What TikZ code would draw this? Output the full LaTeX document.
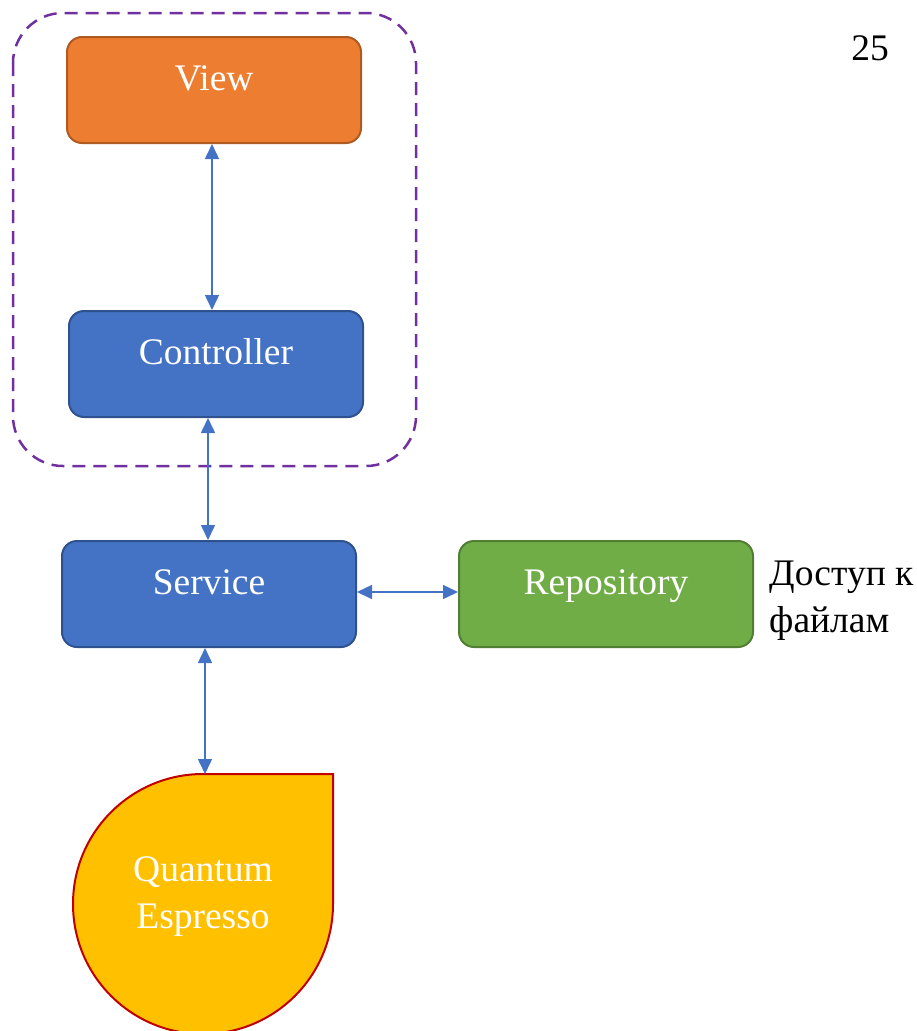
\documentclass[tikz,border=0pt]{standalone}
\usepackage{fontspec}
\setmainfont{Liberation Serif}
\usetikzlibrary{arrows.meta}
\definecolor{cOrange}{HTML}{ED7D31}
\definecolor{cOrangeB}{HTML}{AE5A21}
\definecolor{cBlue}{HTML}{4472C4}
\definecolor{cBlueB}{HTML}{2F528F}
\definecolor{cGreen}{HTML}{70AD47}
\definecolor{cGreenB}{HTML}{507E32}
\definecolor{cYellow}{HTML}{FFC000}
\definecolor{cRed}{HTML}{C00000}
\definecolor{cPurple}{HTML}{7030A0}
\begin{document}
\begin{tikzpicture}[x=1pt,y=-1pt,
  box/.style={draw, line width=2pt, rounded corners=15pt, minimum width=294pt, minimum height=106pt,
    text=white, font=\fontsize{37.5}{47}\selectfont, text height=14pt, text depth=14pt, inner sep=0pt},
  link/.style={cBlue, line width=1.5pt, {Triangle[length=15pt,width=14pt]}-{Triangle[length=15pt,width=14pt]}},
  big/.style={font=\fontsize{37.5}{47}\selectfont}
]
\useasboundingbox (0,0) rectangle (917,1031);
% dashed group
\draw[cPurple, line width=2.5pt, dash pattern=on 13pt off 8pt, rounded corners=50pt] (13,13) rectangle (416,466);
% boxes
\node[box, fill=cOrange, draw=cOrangeB] (view) at (214,90) {View};
\node[box, fill=cBlue, draw=cBlueB] (controller) at (216,364) {Controller};
\node[box, fill=cBlue, draw=cBlueB] (service) at (209,594) {Service};
\node[box, fill=cGreen, draw=cGreenB] (repository) at (606,594) {Repository};
% teardrop
\draw[fill=cYellow, draw=cRed, line width=2pt] (203,774) -- (333,774) -- (333,904)
  arc[start angle=0, end angle=180, radius=130]
  arc[start angle=180, end angle=270, radius=130] -- cycle;
\node[big, text=white, align=center, inner sep=0pt] (quantum) at (203,897) {Quantum\\Espresso};
\coordinate (qtop) at (205,774);
% texts
\node[big, anchor=west, align=left, inner sep=0pt] (access) at (769,601) {Доступ к\\файлам};
\node[big, inner sep=0pt] (page) at (870,48) {25};
% connectors
\draw[link] (view.south -| 212,0) -- (controller.north -| 212,0);
\draw[link] (controller.south -| 208,0) -- (service.north -| 208,0);
\draw[link] (service.east |- 0,592) -- (repository.west |- 0,592);
\draw[link] (qtop |- service.south) -- (qtop);
\end{tikzpicture}
\end{document}
